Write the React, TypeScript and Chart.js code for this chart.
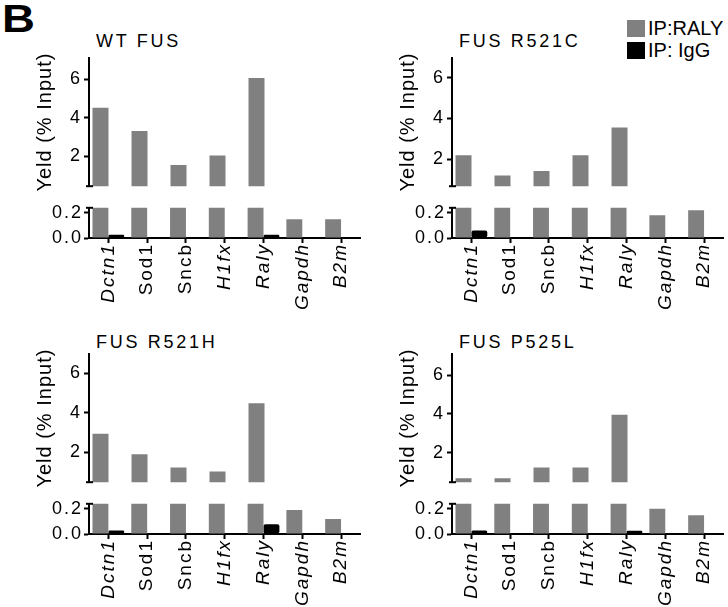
import React, { useEffect, useRef } from 'react';
import { Chart, registerables } from 'chart.js';

Chart.register(...registerables);

// ---------------- data ----------------
const CATEGORIES = ['Dctn1', 'Sod1', 'Sncb', 'H1fx', 'Raly', 'Gapdh', 'B2m'];
const PANEL_TITLES = ['WT FUS', 'FUS R521C', 'FUS R521H', 'FUS P525L'];
const SERIES_NAMES = ['IP:RALY', 'IP: IgG'];
const Y_AXIS_TITLE = 'Yeld (% Input)';
const FIGURE_LETTER = 'B';

const WT_FUS_RALY = [4.52, 3.3, 1.53, 2.03, 6.07, 0.15, 0.15];
const WT_FUS_IGG = [0.025, 0, 0, 0, 0.025, 0, 0];
const R521C_RALY = [2.2, 1.21, 1.43, 2.2, 3.56, 0.18, 0.22];
const R521C_IGG = [0.06, 0, 0, 0, 0, 0, 0];
const R521H_RALY = [2.93, 1.9, 1.23, 1.03, 4.47, 0.19, 0.12];
const R521H_IGG = [0.027, 0, 0, 0, 0.077, 0, 0];
const P525L_RALY = [0.67, 0.67, 1.23, 1.23, 3.95, 0.2, 0.15];
const P525L_IGG = [0.028, 0, 0, 0, 0.025, 0, 0];

const UPPER_TICKS = [2, 4, 6];
const LOWER_TICKS = [0, 0.2];
const UPPER_MIN = [0.43, 0.68, 0.49, 0.47];
const UPPER_MAX = [7.11, 6.96, 6.96, 7.09];
const LOWER_MIN = 0;
const LOWER_MAX = 0.24;

const PANELS = [
  { title: PANEL_TITLES[0], raly: WT_FUS_RALY, igg: WT_FUS_IGG },
  { title: PANEL_TITLES[1], raly: R521C_RALY, igg: R521C_IGG },
  { title: PANEL_TITLES[2], raly: R521H_RALY, igg: R521H_IGG },
  { title: PANEL_TITLES[3], raly: P525L_RALY, igg: P525L_IGG },
];

// ---------------- style / layout ----------------
const FONT = "'Liberation Sans', Arial, Helvetica, sans-serif";
const GRAY = '#808080';
const BLACK = '#000000';
const UPRIGHT_LABELS = ['Sod1', 'Sncb'];

const PANEL_ORIGINS = [
  [0, 0],
  [363, 0],
  [0, 296],
  [363, 296],
];
const TITLE_TOPS = [32, 32, 333, 333];
const TITLE_DX = 96;

const CANVAS_W = 364;
const AXIS_LEFT = 89;
const AREA_RIGHT = 362;
const UP_TOP = 58;
const UP_BOTTOM = 190;
const UP_CANVAS_H = 200;
const LO_CANVAS_TOP = 196;
const LO_TOP = 203;
const LO_BOTTOM = 238;
const LO_CANVAS_H = 118;

const letterSpacingPlugin = (px: number) => ({
  id: 'letterSpacing',
  beforeDraw(chart: any) {
    (chart.ctx as any).letterSpacing = px + 'px';
  },
});

const breakMarkPlugin = (edge: 'top' | 'bottom') => ({
  id: 'breakMark',
  afterDraw(chart: any) {
    const { ctx, chartArea } = chart;
    const y = edge === 'bottom' ? chartArea.bottom : chartArea.top;
    ctx.save();
    ctx.strokeStyle = BLACK;
    ctx.lineWidth = 2;
    ctx.beginPath();
    ctx.moveTo(chartArea.left - 3, y);
    ctx.lineTo(chartArea.left + 4, y);
    ctx.stroke();
    ctx.restore();
  },
});

function datasetsFor(p: number) {
  return [
    {
      label: SERIES_NAMES[0],
      data: PANELS[p].raly,
      backgroundColor: GRAY,
      borderWidth: 0,
      categoryPercentage: 0.82,
      barPercentage: 1,
    },
    {
      label: SERIES_NAMES[1],
      data: PANELS[p].igg,
      backgroundColor: BLACK,
      borderWidth: 0,
      borderRadius: 2,
      borderSkipped: false,
      categoryPercentage: 0.82,
      barPercentage: 1,
    },
  ];
}

const commonPlugins = {
  legend: { display: false },
  tooltip: { enabled: false },
  title: { display: false },
};

function upperConfig(p: number) {
  return {
    type: 'bar',
    data: { labels: CATEGORIES, datasets: datasetsFor(p) },
    options: {
      responsive: false,
      animation: false,
      events: [],
      layout: {
        padding: { left: 0, top: UP_TOP, right: CANVAS_W - AREA_RIGHT, bottom: UP_CANVAS_H - UP_BOTTOM },
      },
      plugins: commonPlugins,
      scales: {
        x: { display: false, offset: true },
        y: {
          min: UPPER_MIN[p],
          max: UPPER_MAX[p],
          afterBuildTicks: (s: any) => {
            s.ticks = UPPER_TICKS.map((v) => ({ value: v }));
          },
          afterFit: (s: any) => {
            s.width = AXIS_LEFT;
          },
          border: { display: true, color: BLACK, width: 2 },
          grid: {
            drawOnChartArea: false,
            drawTicks: true,
            tickLength: 5,
            tickWidth: 2,
            tickColor: BLACK,
          },
          ticks: {
            color: BLACK,
            padding: 3,
            font: { family: FONT, size: 18 },
            callback: (v: any) => String(v),
          },
          title: {
            display: true,
            text: Y_AXIS_TITLE,
            color: BLACK,
            font: { family: FONT, size: 20 },
            padding: { top: 33, bottom: 0 },
          },
        },
      },
    },
    plugins: [letterSpacingPlugin(1), breakMarkPlugin('bottom')],
  };
}

function lowerConfig(p: number) {
  return {
    type: 'bar',
    data: { labels: CATEGORIES, datasets: datasetsFor(p) },
    options: {
      responsive: false,
      animation: false,
      events: [],
      layout: {
        padding: { left: 0, top: LO_TOP - LO_CANVAS_TOP, right: CANVAS_W - AREA_RIGHT, bottom: 0 },
      },
      plugins: commonPlugins,
      scales: {
        x: {
          offset: true,
          afterFit: (s: any) => {
            s.height = LO_CANVAS_H - (LO_BOTTOM - LO_CANVAS_TOP);
          },
          border: { display: true, color: BLACK, width: 2 },
          grid: {
            offset: false,
            drawOnChartArea: false,
            drawTicks: true,
            tickLength: 5,
            tickWidth: 2,
            tickColor: BLACK,
          },
          ticks: {
            autoSkip: false,
            minRotation: 90,
            maxRotation: 90,
            padding: 0,
            color: BLACK,
            font: (ctx: any) => ({
              family: FONT,
              size: 19,
              style: UPRIGHT_LABELS.includes(CATEGORIES[ctx.index]) ? 'normal' : 'italic',
            }),
          },
        },
        y: {
          min: LOWER_MIN,
          max: LOWER_MAX,
          afterBuildTicks: (s: any) => {
            s.ticks = LOWER_TICKS.map((v) => ({ value: v }));
          },
          afterFit: (s: any) => {
            s.width = AXIS_LEFT;
          },
          border: { display: true, color: BLACK, width: 2 },
          grid: {
            drawOnChartArea: false,
            drawTicks: true,
            tickLength: 5,
            tickWidth: 2,
            tickColor: BLACK,
          },
          ticks: {
            color: BLACK,
            padding: 1,
            font: { family: FONT, size: 18 },
            callback: (v: any) => Number(v).toFixed(1),
          },
        },
      },
    },
    plugins: [letterSpacingPlugin(2), breakMarkPlugin('top')],
  };
}

export default function App() {
  const refs = useRef<(HTMLCanvasElement | null)[]>([]);

  useEffect(() => {
    const charts: Chart[] = [];
    PANELS.forEach((_, i) => {
      const up = refs.current[i * 2];
      const lo = refs.current[i * 2 + 1];
      if (up) charts.push(new Chart(up, upperConfig(i) as any));
      if (lo) charts.push(new Chart(lo, lowerConfig(i) as any));
    });
    return () => charts.forEach((c) => c.destroy());
  }, []);

  return (
    <div
      style={{
        position: 'absolute',
        left: 0,
        top: 0,
        width: 728,
        height: 607,
        overflow: 'hidden',
        background: '#ffffff',
        fontFamily: FONT,
        color: BLACK,
      }}
    >
      <div
        style={{
          position: 'absolute',
          left: 2,
          top: 0,
          fontSize: 38,
          lineHeight: '38px',
          fontWeight: 700,
          transform: 'scaleX(1.2)',
          transformOrigin: 'left top',
        }}
      >
        {FIGURE_LETTER}
      </div>

      {[GRAY, BLACK].map((c, k) => (
        <React.Fragment key={'lg' + k}>
          <div
            style={{ position: 'absolute', left: 627, top: 20 + k * 22, width: 18, height: 17, background: c }}
          />
          <div
            style={{
              position: 'absolute',
              left: 648,
              top: 18 + k * 22,
              fontSize: 20,
              lineHeight: '20px',
              whiteSpace: 'nowrap',
            }}
          >
            {SERIES_NAMES[k]}
          </div>
        </React.Fragment>
      ))}

      {PANELS.map((p, i) => {
        const [ox, oy] = PANEL_ORIGINS[i];
        return (
          <React.Fragment key={'p' + i}>
            <div
              style={{
                position: 'absolute',
                left: ox + TITLE_DX,
                top: TITLE_TOPS[i],
                fontSize: 18,
                lineHeight: '18px',
                letterSpacing: '2.7px',
                whiteSpace: 'nowrap',
              }}
            >
              {p.title}
            </div>
            <canvas
              ref={(el) => {
                refs.current[i * 2] = el;
              }}
              width={CANVAS_W}
              height={UP_CANVAS_H}
              style={{ position: 'absolute', left: ox, top: oy, width: CANVAS_W, height: UP_CANVAS_H }}
            />
            <canvas
              ref={(el) => {
                refs.current[i * 2 + 1] = el;
              }}
              width={CANVAS_W}
              height={LO_CANVAS_H}
              style={{
                position: 'absolute',
                left: ox,
                top: oy + LO_CANVAS_TOP,
                width: CANVAS_W,
                height: LO_CANVAS_H,
              }}
            />
          </React.Fragment>
        );
      })}
    </div>
  );
}
